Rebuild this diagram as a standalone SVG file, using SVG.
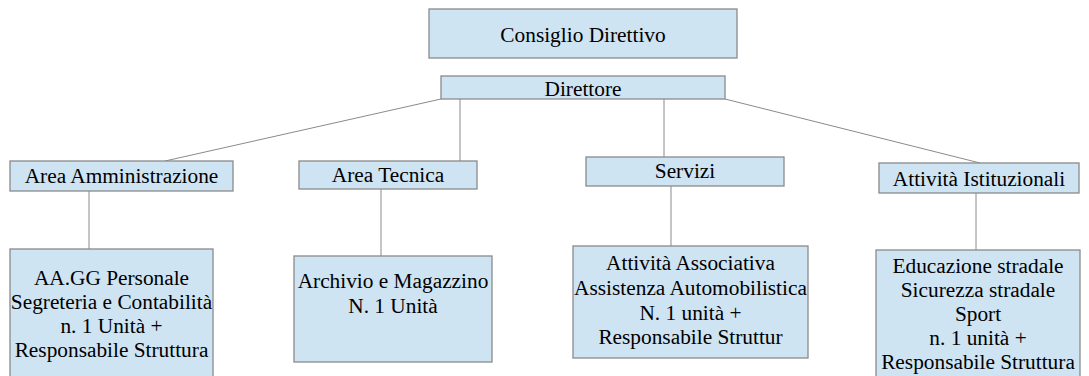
<svg xmlns="http://www.w3.org/2000/svg" width="1089" height="376" viewBox="0 0 1089 376">
<style>
.box{fill:#cfe4f3;stroke:#8a8a8a;stroke-width:1.3}
.t{font-family:'Liberation Serif','Times New Roman',serif;font-size:21.33px;fill:#000;text-anchor:middle}
.c{stroke:#8a8a8a;stroke-width:1;fill:none}
</style>
<rect width="1089" height="376" fill="#fff"/>
<g id="connectors">
<line class="c" x1="441" y1="99" x2="165" y2="161"/>
<line class="c" x1="460" y1="99" x2="460" y2="161"/>
<line class="c" x1="664" y1="99" x2="664" y2="157"/>
<line class="c" x1="725" y1="99" x2="980" y2="163"/>
<line class="c" x1="89" y1="191" x2="89" y2="249"/>
<line class="c" x1="381" y1="189" x2="381" y2="256"/>
<line class="c" x1="671" y1="186" x2="671" y2="246"/>
<line class="c" x1="976" y1="193" x2="976" y2="250"/>
</g>
<g id="consiglio"><rect class="box" x="429" y="9" width="308" height="49"/><text class="t" x="583" y="42">Consiglio Direttivo</text></g>
<g id="direttore"><rect class="box" x="441" y="76" width="284" height="23"/><text class="t" x="583" y="96">Direttore</text></g>
<g id="area-amm"><rect class="box" x="10" y="161" width="223" height="30"/><text class="t" x="121.5" y="183">Area Amministrazione</text></g>
<g id="area-tec"><rect class="box" x="299" y="161" width="178" height="28"/><text class="t" x="388" y="182">Area Tecnica</text></g>
<g id="servizi"><rect class="box" x="586" y="157" width="198" height="29"/><text class="t" x="685" y="178">Servizi</text></g>
<g id="attivita-ist"><rect class="box" x="879" y="163" width="200" height="30"/><text class="t" x="979" y="186">Attività Istituzionali</text></g>
<g id="aagg"><rect class="box" x="10" y="249" width="203" height="140"/>
<text class="t" x="111.5" y="285">AA.GG Personale</text>
<text class="t" x="111.5" y="309">Segreteria e Contabilità</text>
<text class="t" x="111.5" y="333">n. 1 Unità +</text>
<text class="t" x="111.5" y="357">Responsabile Struttura</text></g>
<g id="archivio"><rect class="box" x="294" y="256" width="198" height="106"/>
<text class="t" x="393" y="288">Archivio e Magazzino</text>
<text class="t" x="393" y="313">N. 1 Unità</text></g>
<g id="associativa"><rect class="box" x="573" y="246" width="235" height="112"/>
<text class="t" x="690.5" y="270">Attività Associativa</text>
<text class="t" x="690.5" y="295">Assistenza Automobilistica</text>
<text class="t" x="690.5" y="320">N. 1 unità +</text>
<text class="t" x="690.5" y="344">Responsabile Struttur</text></g>
<g id="educazione"><rect class="box" x="876" y="250" width="204" height="140"/>
<text class="t" x="978" y="273">Educazione stradale</text>
<text class="t" x="978" y="297">Sicurezza stradale</text>
<text class="t" x="978" y="321">Sport</text>
<text class="t" x="978" y="345">n. 1 unità +</text>
<text class="t" x="978" y="369">Responsabile Struttura</text></g>
</svg>
